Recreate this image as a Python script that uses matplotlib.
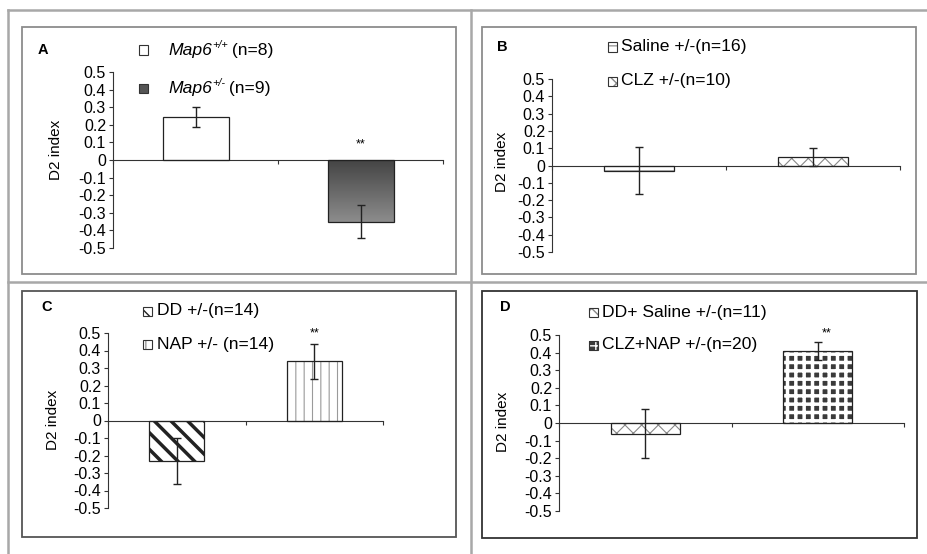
import matplotlib
matplotlib.use("Agg")
import matplotlib.pyplot as plt
from matplotlib.patches import Rectangle
from matplotlib.lines import Line2D
import numpy as np

plt.rcParams['font.family'] = ['Liberation Sans', 'DejaVu Sans']

# data
panel_letters = ['A', 'B', 'C', 'D']
means_a = [0.245, -0.35]
err_a = [0.055, 0.095]
means_b = [-0.03, 0.05]
err_b = [0.135, 0.05]
means_c = [-0.23, 0.34]
err_c = [0.13, 0.10]
means_d = [-0.06, 0.41]
err_d = [0.14, 0.05]
# panel A labels: (italic part, superscript, rest)
labels_a = [("Map6", "+/+", " (n=8)"), ("Map6", "+/-", " (n=9)")]
labels_b = ["Saline +/-(n=16)", "CLZ +/-(n=10)"]
labels_c = ["DD +/-(n=14)", "NAP +/- (n=14)"]
labels_d = ["DD+ Saline +/-(n=11)", "CLZ+NAP +/-(n=20)"]
signif = [[False, True], [False, False], [False, True], [False, True]]
yticks = [round(v, 1) + 0.0 for v in np.arange(-0.5, 0.51, 0.1)]

W, H = 927, 554
fig = plt.figure(figsize=(W / 100, H / 100), dpi=100)
renderer = fig.canvas.get_renderer()


def fx(x):
    return x / W


def fy(y):
    return 1 - y / H


def add_axes_px(x0, y0, x1, y1):
    return fig.add_axes([fx(x0), fy(y1), fx(x1) - fx(x0), fy(y0) - fy(y1)])


# outer grid lines
for (xa, ya, xb, yb) in [(8, 10, W, 10), (8, 10, 8, H), (471, 10, 471, H), (8, 282, W, 282)]:
    fig.add_artist(Line2D([fx(xa), fx(xb)], [fy(ya), fy(yb)], color='#a8a8a8', lw=1.8))

# panel boxes
boxes = [(22, 27, 456, 274, '#8c8c8c'), (482, 27, 916, 274, '#8c8c8c'),
         (22, 291, 456, 537, '#555555'), (482, 291, 917, 538, '#333333')]
for (x0, y0, x1, y1, c) in boxes:
    fig.add_artist(Rectangle((fx(x0), fy(y1)), fx(x1) - fx(x0), fy(y0) - fy(y1),
                             fill=False, edgecolor=c, lw=1.3, transform=fig.transFigure))

# style of each bar: (face, hatch, hatch colour, hatch lw)
styles = [
    [('white', None, None, 1), ('gradient', None, None, 1)],
    [('white', '--', '#999999', 0.8), ('white', 'xx', '#888888', 0.8)],
    [('white', '\\\\', '#222222', 2.5), ('white', '||', '#9a9a9a', 0.8)],
    [('white', 'xx', '#888888', 0.8), ('#3a3a3a', '++', 'white', 2.5)],
]

axes_px = [(113, 72, 443, 248), (552, 79, 900, 252), (108, 333, 383, 508), (559, 335, 904, 511)]
all_means = [means_a, means_b, means_c, means_d]
all_err = [err_a, err_b, err_c, err_d]
all_labels = [labels_a, labels_b, labels_c, labels_d]
letter_pos = [(43, 50), (502, 47), (47, 307), (505, 307)]
ylabel_pos = [(56, 150), (502, 162), (53, 420), (503, 422)]
legend_pos = [((143, 168), (50, 88)), ((612, 621), (47, 81)),
              ((147, 157), (311, 344)), ((593, 602), (312, 345))]
star_x = [1.5, 1.5, 1.5, 1.55]
star_y = [0.09, 0.5, 0.5, 0.51]

xs = np.array([0.5, 1.5])
bw = 0.4
leg_fs = 12.6

for i in range(4):
    ax = add_axes_px(*axes_px[i])
    ax.patch.set_alpha(0)
    means = all_means[i]
    errs = all_err[i]
    for j in range(2):
        face, hatch, hc, hlw = styles[i][j]
        x0 = xs[j] - bw / 2
        if face == 'gradient':
            grad = np.linspace(0, 1, 100).reshape(-1, 1)
            ax.imshow(grad, cmap='gray', vmin=-0.96, vmax=2.6, aspect='auto',
                      extent=[x0, x0 + bw, means[j], 0], origin='upper', zorder=2)
        else:
            p = ax.bar(xs[j], means[j], bw, color=face, edgecolor=hc if hatch else 'none',
                       hatch=hatch, lw=0, zorder=2)
            if hatch and hasattr(p[0], 'set_hatch_linewidth'):
                p[0].set_hatch_linewidth(hlw)
        ax.bar(xs[j], means[j], bw, color='none', edgecolor='#222222', lw=0.9, zorder=3)
    ax.errorbar(xs, means, yerr=errs, fmt='none', ecolor='#222222', elinewidth=1,
                capsize=3, capthick=1, zorder=4)
    for j in range(2):
        if signif[i][j]:
            ax.text(star_x[i], star_y[i], '**', ha='center', va='center', fontsize=9)
    ax.set_xlim(0, 2)
    ax.set_ylim(-0.5, 0.5)
    ax.spines['top'].set_visible(False)
    ax.spines['right'].set_visible(False)
    ax.spines['bottom'].set_position(('data', 0))
    ax.spines['bottom'].set_color('#333333')
    ax.spines['left'].set_color('#333333')
    ax.set_xticks([0, 1, 2])
    ax.set_xticklabels([])
    ax.tick_params(axis='x', length=3, color='#333333', direction='out')
    ax.set_yticks(yticks)
    ax.set_yticklabels([f"{v:g}" for v in yticks], fontsize=11.5)
    ax.tick_params(axis='y', length=3, color='#333333', pad=2)

    lx, ly = ylabel_pos[i]
    fig.text(fx(lx), fy(ly), 'D2 index', rotation=90, ha='center', va='center', fontsize=11)
    tx, ty = letter_pos[i]
    fig.text(fx(tx), fy(ty), panel_letters[i], ha='center', va='center', fontsize=10.5,
             fontweight='bold')

    (mx, txx), (y1, y2) = legend_pos[i]
    for j, yy in enumerate([y1, y2]):
        face, hatch, hc, hlw = styles[i][j]
        s = 9
        if face == 'gradient':
            face = '#555555'
        r = Rectangle((fx(mx - s / 2), fy(yy + s / 2)), fx(s), fy(0) - fy(s),
                      facecolor=face, edgecolor=hc if hatch else 'none', hatch=hatch, lw=0,
                      transform=fig.transFigure)
        fig.add_artist(r)
        fig.add_artist(Rectangle((fx(mx - s / 2), fy(yy + s / 2)), fx(s), fy(0) - fy(s),
                                 fill=False, edgecolor='#333333', lw=0.8,
                                 transform=fig.transFigure))
        lab = all_labels[i][j]
        if isinstance(lab, tuple):
            t1 = fig.text(fx(txx), fy(yy), lab[0], ha='left', va='center', fontsize=leg_fs,
                          fontstyle='italic')
            w1 = t1.get_window_extent(renderer).width
            t2 = fig.text(fx(txx + w1 + 0.5), fy(yy - 5), lab[1], ha='left', va='center',
                          fontsize=leg_fs * 0.62, fontstyle='italic')
            w2 = t2.get_window_extent(renderer).width
            fig.text(fx(txx + w1 + w2 - 1), fy(yy), lab[2], ha='left', va='center',
                     fontsize=leg_fs)
        else:
            fig.text(fx(txx), fy(yy), lab, ha='left', va='center', fontsize=leg_fs)

fig.savefig('out.png', dpi=100)
